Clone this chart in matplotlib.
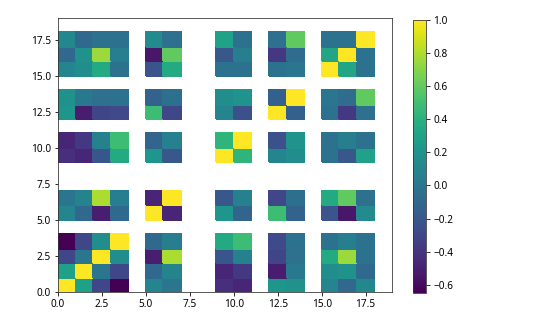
import numpy as np
import matplotlib
matplotlib.use("Agg")
import matplotlib.pyplot as plt

# grid positions of the 13 variables (the other rows / columns stay empty)
positions = [0, 1, 2, 3, 5, 6, 9, 10, 12, 13, 15, 16, 17]
grid_size = 19

# correlation values, rows follow `positions`
corr = [
    [1.00, 0.28, -0.30, -0.65, 0.10, 0.00, -0.43, -0.47, 0.22, 0.18, 0.10, -0.10, 0.12],
    [0.28, 1.00, 0.00, -0.30, -0.10, 0.09, -0.47, -0.38, -0.52, 0.02, 0.16, 0.18, -0.09],
    [-0.30, 0.00, 1.00, 0.15, -0.51, 0.79, -0.21, 0.07, -0.31, -0.04, 0.35, 0.75, -0.03],
    [-0.65, -0.30, 0.15, 1.00, -0.09, 0.05, 0.35, 0.48, -0.28, -0.03, -0.03, 0.05, -0.03],
    [0.10, -0.10, -0.51, -0.09, 1.00, -0.48, 0.22, -0.12, 0.48, -0.13, -0.22, -0.55, 0.13],
    [0.00, 0.09, 0.79, 0.05, -0.48, 1.00, -0.20, 0.06, -0.30, -0.05, 0.35, 0.60, -0.04],
    [-0.43, -0.47, -0.21, 0.35, 0.22, -0.20, 1.00, 0.42, 0.10, 0.15, -0.03, -0.20, 0.30],
    [-0.47, -0.38, 0.07, 0.48, -0.12, 0.06, 0.42, 1.00, -0.25, 0.20, -0.03, 0.05, -0.03],
    [0.22, -0.52, -0.31, -0.28, 0.48, -0.30, 0.10, -0.25, 1.00, -0.15, -0.03, -0.38, -0.04],
    [0.18, 0.02, -0.04, -0.03, -0.13, -0.05, 0.15, 0.20, -0.15, 1.00, 0.00, -0.07, 0.60],
    [0.10, 0.16, 0.35, -0.03, -0.22, 0.35, -0.03, -0.03, -0.03, 0.00, 1.00, 0.32, -0.03],
    [-0.10, 0.18, 0.75, 0.05, -0.55, 0.60, -0.20, 0.05, -0.38, -0.07, 0.32, 1.00, -0.03],
    [0.12, -0.09, -0.03, -0.03, 0.13, -0.04, 0.30, -0.03, -0.04, 0.60, -0.03, -0.03, 1.00],
]

plt.rcParams['font.family'] = ['Noto Sans', 'DejaVu Sans']
plt.rcParams['font.size'] = 10
plt.rcParams['axes.edgecolor'] = '#333333'

# place the values into the full grid, blanks are NaN
grid = np.full((grid_size, grid_size), np.nan)
for i, pi in enumerate(positions):
    for j, pj in enumerate(positions):
        grid[pi, pj] = corr[i][j]
grid = np.ma.masked_invalid(grid)

fig = plt.figure(figsize=(533 / 72, 331 / 72), dpi=72)
ax = fig.add_axes([0.1088, 0.1178, 0.6266, 0.8278])
cax = fig.add_axes([0.7749, 0.1148, 0.0244, 0.8248])

mesh = ax.pcolormesh(grid, cmap='viridis', edgecolors='face', linewidth=0.3)
ax.set_xlim(0, grid_size)
ax.set_ylim(0, grid_size)
ax.set_xticks(np.arange(0, 18, 2.5))
ax.set_yticks(np.arange(0, 18, 2.5))

cb = fig.colorbar(mesh, cax=cax)
cb.set_ticks(np.arange(-0.6, 1.01, 0.2))

fig.savefig('out.png', dpi=72)
